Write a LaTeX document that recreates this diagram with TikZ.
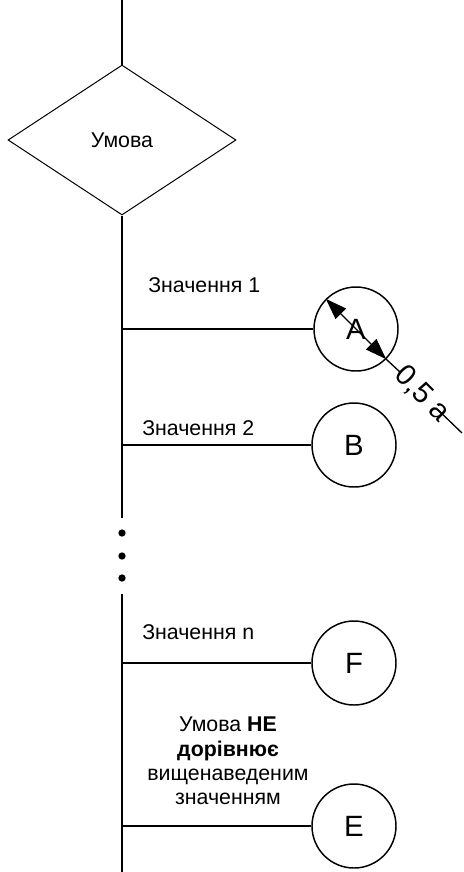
\documentclass[tikz,border=0pt]{standalone}
\usepackage{fontspec}
\setmainfont{Liberation Sans}
\usetikzlibrary{shapes.geometric,arrows.meta,calc}
\begin{document}
\begin{tikzpicture}[x=0.75pt,y=-0.75pt,
  mainline/.style={line width=0.8pt},
  branch/.style={line width=2.2pt},
  cond/.style={diamond,draw,line width=0.75pt,inner sep=0pt,aspect=1.52,
     minimum width=171pt,minimum height=112.5pt,font=\fontsize{16}{18}\selectfont},
  term/.style={circle,draw,line width=1.1pt,minimum size=63pt,inner sep=0pt,
     font=\fontsize{22}{24}\selectfont},
  lbl/.style={inner sep=0pt,anchor=west,font=\fontsize{16}{18}\selectfont},
  dot/.style={circle,fill,inner sep=0pt,minimum size=5.5pt},
  dim/.style={line width=1pt}]
\useasboundingbox (0,0) rectangle (464,872);
% main flow
\coordinate (top) at (122,0);
\node[cond] (c) at (122,140) {Умова};
\coordinate (g1) at (122,518);
\node[dot] (d1) at (122,533) {};
\node[dot] (d2) at (122,556) {};
\node[dot] (d3) at (122,578) {};
\coordinate (g2) at (122,594);
\coordinate (bot) at (122,872);
\draw[mainline] (top) -- (c.north);
\draw[mainline] (c.south) -- (g1);
\draw[mainline] (g2) -- (bot);
% terminals
\node[term] (A) at (356,329) {A};
\node[term] (B) at (354,445) {B};
\node[term] (F) at (354,663) {F};
\node[term] (E) at (354,826) {E};
% junctions
\coordinate (j1) at (122,329);
\coordinate (j2) at (122,445);
\coordinate (j3) at (122,663);
\coordinate (j4) at (122,826);
\draw[branch] (j1) -- (A.west);
\draw[branch] (j2) -- (B.west);
\draw[branch] (j3) -- (F.west);
\draw[branch] (j4) -- (E.west);
% labels
\node[lbl] (l1) at (148,285) {Значення 1};
\node[lbl] (l2) at (142,428) {Значення 2};
\node[lbl] (l3) at (142,632) {Значення n};
\node[inner sep=0pt,align=center,font=\fontsize{16}{18.2}\selectfont] (l4) at (228,761)
  {Умова \textbf{НЕ}\\ \textbf{дорівнює}\\ вищенаведеним\\ значенням};
% dimension
\draw[dim,{Triangle[length=16pt,width=11pt]}-{Triangle[length=16pt,width=11pt]}] (A.135) -- (A.-45);
\coordinate (dimend) at (462,433);
\node[inner sep=0pt,rotate=-45,font=\fontsize{22}{24}\selectfont] (dl) at (422,394) {0,5 a};
\draw[dim] (A.-45) -- ($(dl.west)!0.04!(dl.east)$);
\draw[dim] ($(dl.west)!0.8!(dl.east)$) -- (dimend);
\end{tikzpicture}
\end{document}
